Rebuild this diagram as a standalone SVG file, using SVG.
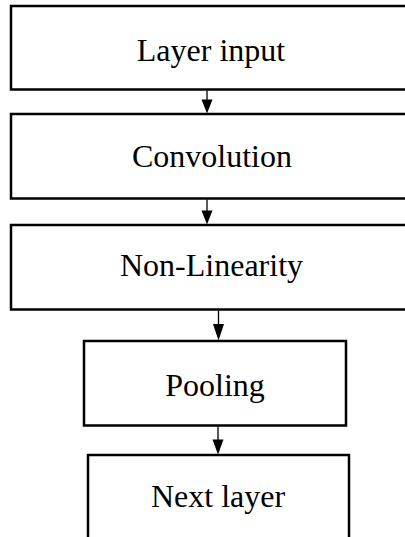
<svg xmlns="http://www.w3.org/2000/svg" width="405" height="537" viewBox="0 0 405 537">
<style>
.box{fill:#fff;stroke:#000;stroke-width:2.5}
.lbl{font-family:"Liberation Serif","Times New Roman",serif;font-size:32px;fill:#000;text-anchor:middle}
.conn{stroke:#000;stroke-width:1.3;fill:none}
.head{fill:#000;stroke:none}
</style>
<rect width="405" height="537" fill="#fff"/>
<g id="n1"><rect class="box" x="11" y="6" width="420" height="83.5"/><text class="lbl" x="211" y="61">Layer input</text></g>
<g id="n2"><rect class="box" x="11" y="114" width="420" height="84.5"/><text class="lbl" x="212" y="167">Convolution</text></g>
<g id="n3"><rect class="box" x="11" y="225" width="420" height="84.5"/><text class="lbl" x="211.5" y="276">Non-Linearity</text></g>
<g id="n4"><rect class="box" x="84" y="341" width="262" height="84.5"/><text class="lbl" x="215" y="396">Pooling</text></g>
<g id="n5"><rect class="box" x="88" y="455" width="261" height="100"/><text class="lbl" x="218" y="507">Next layer</text></g>
<g id="connectors">
<line class="conn" x1="207" y1="90.5" x2="207" y2="100"/>
<path class="head" d="M201.5,99.5 L212.5,99.5 L207,113.5 Z"/>
<line class="conn" x1="207" y1="199.5" x2="207" y2="211"/>
<path class="head" d="M201.5,210.5 L212.5,210.5 L207,224.5 Z"/>
<line class="conn" x1="218.5" y1="310.5" x2="218.5" y2="325"/>
<path class="head" d="M213,324 L224,324 L218.5,340.5 Z"/>
<line class="conn" x1="218" y1="426.5" x2="218" y2="440"/>
<path class="head" d="M212.5,439.5 L223.5,439.5 L218,454.5 Z"/>
</g>
</svg>
